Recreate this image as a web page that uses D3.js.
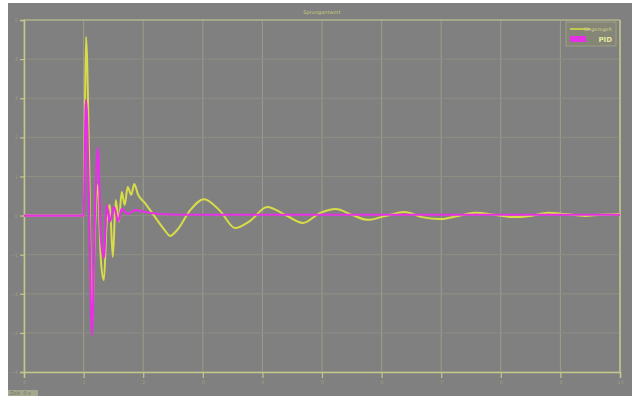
<!DOCTYPE html>
<html>
<head>
<meta charset="utf-8">
<script src="https://cdn.jsdelivr.net/npm/d3@7"></script>
<style>
  html, body { margin: 0; padding: 0; background: #ffffff; }
  svg { display: block; }
</style>
</head>
<body>
<svg id="chart" width="632" height="396"></svg>
<script>
// Step response of two controllers: time axis in seconds, output amplitude.
const xTicks = [0, 1, 2, 3, 4, 5, 6, 7, 8, 9, 10];
const yTicks = [-4, -3, -2, -1, 0, 1, 2, 3, 4, 5];

const seriesNames = ["Ungeregelt", "PID"];

const timeA = [0, 1.00, 1.04, 1.09, 1.14, 1.19, 1.24, 1.29, 1.34, 1.39, 1.44, 1.49, 1.54, 1.59, 1.64,
  1.69, 1.74, 1.80, 1.85, 1.91, 2.03, 2.20, 2.37, 2.45, 2.57, 2.79, 3.02, 3.29, 3.54, 3.79,
  4.08, 4.38, 4.68, 4.97, 5.23, 5.50, 5.77, 6.06, 6.39, 6.68, 6.98, 7.28, 7.57, 7.90, 8.19,
  8.49, 8.79, 9.08, 9.41, 9.66, 10];
const valuesA = [0, 0, 4.57, 1.68, -2.85, -0.37, 0.78, -1.14, -1.65, -0.11, 0.27, -1.06, 0.40, -0.16, 0.60,
  0.27, 0.73, 0.53, 0.81, 0.55, 0.32, -0.04, -0.39, -0.52, -0.37, 0.14, 0.42, 0.12, -0.32, -0.14,
  0.22, 0.02, -0.19, 0.07, 0.17, 0.02, -0.11, -0.01, 0.09, -0.04, -0.09, -0.01, 0.07, 0.02, -0.04,
  -0.01, 0.07, 0.04, -0.01, 0.02, 0.04];

const timeB = [0, 1.00, 1.04, 1.09, 1.14, 1.19, 1.24, 1.29, 1.34, 1.39, 1.44, 1.51, 1.58, 1.64,
  1.74, 1.86, 2.03, 2.28, 2.62, 10];
const valuesB = [0, 0, 2.96, 0.40, -3.05, 0.02, 1.73, -0.57, -1.08, 0.27, -0.16, 0.22, -0.14, 0.17,
  0.04, 0.14, 0.09, 0.04, 0.02, 0.02];

const colors = ["#d8dc48", "#e630e6"];

const svg = d3.select("#chart");
const W = 632, H = 396;

// panel background
svg.append("rect").attr("x", 8).attr("y", 3).attr("width", W - 8).attr("height", H - 3)
  .attr("fill", "#808080");

const x = d3.scaleLinear().domain([0, 10]).range([24, 620]);
const y = d3.scaleLinear().domain([-4, 5]).range([372, 20]);

// grid
const grid = svg.append("g");
grid.selectAll("line.v").data(xTicks).join("line")
  .attr("x1", d => x(d)).attr("x2", d => x(d))
  .attr("y1", y(5)).attr("y2", y(-4))
  .attr("stroke", "#9c9d88").attr("stroke-width", 1);
grid.selectAll("line.h").data(yTicks).join("line")
  .attr("x1", x(0)).attr("x2", x(10))
  .attr("y1", d => y(d)).attr("y2", d => y(d))
  .attr("stroke", "#8e8f84").attr("stroke-width", 1);

// axes
const axisColor = "#c4c88a";
const xAxis = svg.append("g").attr("transform", `translate(0,${y(-4)})`)
  .call(d3.axisBottom(x).tickValues(xTicks).tickSize(6).tickPadding(2));
const yAxis = svg.append("g").attr("transform", `translate(${x(0)},0)`)
  .call(d3.axisLeft(y).tickValues(yTicks).tickSize(4).tickPadding(2));
[xAxis, yAxis].forEach(a => {
  a.select(".domain").attr("stroke", axisColor).attr("stroke-width", 1.5);
  a.selectAll(".tick line").attr("stroke", axisColor).attr("stroke-width", 1.2);
  a.selectAll(".tick text").attr("fill", "#9a9c86").attr("font-size", 5)
    .attr("font-family", "DejaVu Sans");
});
// frame top and right
svg.append("line").attr("x1", x(0)).attr("x2", x(10)).attr("y1", y(5)).attr("y2", y(5))
  .attr("stroke", axisColor).attr("stroke-width", 1.2);
svg.append("line").attr("x1", x(10)).attr("x2", x(10)).attr("y1", y(5)).attr("y2", y(-4))
  .attr("stroke", axisColor).attr("stroke-width", 1.5);

// series
const line = d3.line().x(d => x(d[0])).y(d => y(d[1])).curve(d3.curveMonotoneX);
const dataA = timeA.map((t, i) => [t, valuesA[i]]);
const dataB = timeB.map((t, i) => [t, valuesB[i]]);
const plot = svg.append("g");
plot.append("path").datum(dataA).attr("d", line)
  .attr("fill", "none").attr("stroke", colors[0]).attr("stroke-width", 2)
  .attr("stroke-linejoin", "round");
plot.append("path").datum(dataB).attr("d", line)
  .attr("fill", "none").attr("stroke", colors[1]).attr("stroke-width", 2.2)
  .attr("stroke-linejoin", "round");

// title
svg.append("text").attr("x", 322).attr("y", 14).attr("text-anchor", "middle")
  .attr("font-family", "DejaVu Sans").attr("font-size", 5).attr("fill", "#c8cc78")
  .text("Sprungantwort");

// legend
const lg = svg.append("g").attr("transform", "translate(566,22)");
lg.append("rect").attr("width", 50).attr("height", 24).attr("fill", "#858676")
  .attr("stroke", "#a4a68a").attr("stroke-width", 0.8);
lg.append("line").attr("x1", 4).attr("x2", 24).attr("y1", 7).attr("y2", 7)
  .attr("stroke", colors[0]).attr("stroke-width", 1.5);
lg.append("text").attr("x", 46).attr("y", 9).attr("text-anchor", "end")
  .attr("font-family", "DejaVu Sans").attr("font-size", 5).attr("fill", "#d0d290")
  .text(seriesNames[0]);
lg.append("rect").attr("x", 4).attr("y", 14).attr("width", 16).attr("height", 6)
  .attr("fill", colors[1]);
lg.append("text").attr("x", 46).attr("y", 20).attr("text-anchor", "end")
  .attr("font-family", "DejaVu Sans").attr("font-size", 7).attr("font-weight", "bold")
  .attr("fill", "#e4e6a0").text(seriesNames[1]);

// status text
svg.append("rect").attr("x", 8).attr("y", 390).attr("width", 30).attr("height", 6)
  .attr("fill", "#a4a68e");
svg.append("text").attr("x", 10).attr("y", 395)
  .attr("font-family", "DejaVu Sans").attr("font-size", 5).attr("fill", "#6e705e")
  .text("Zeit: 0 s");
</script>
</body>
</html>
